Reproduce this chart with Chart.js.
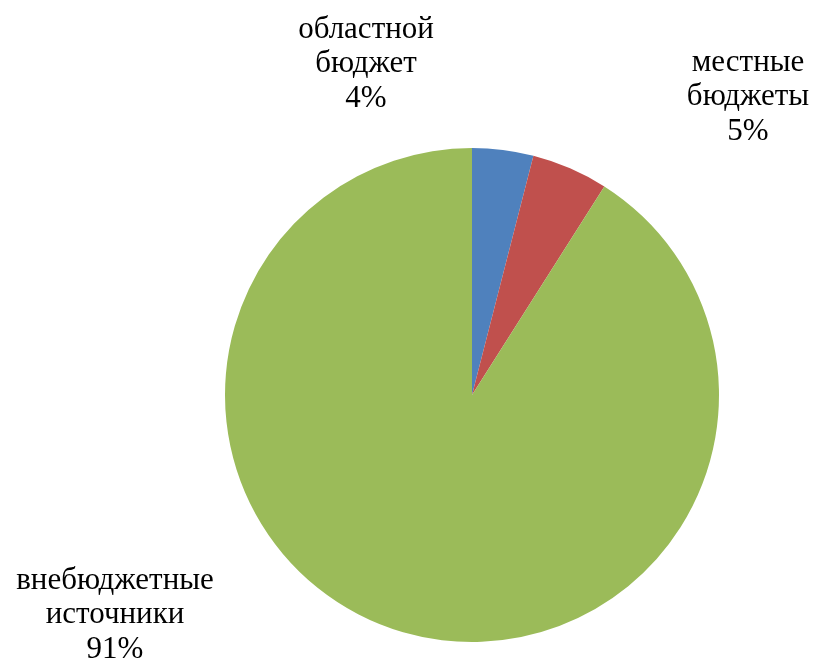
<!DOCTYPE html>
<html>
<head>
<meta charset="utf-8">
<script src="https://cdn.jsdelivr.net/npm/chart.js@4.4.0/dist/chart.umd.min.js"></script>
<style>
  html, body { margin: 0; padding: 0; background: #ffffff; }
  #wrap { width: 815px; height: 663px; }
</style>
</head>
<body>
<div id="wrap"><canvas id="c" width="815" height="663"></canvas></div>
<script>
// Источники финансирования (доли, %)
const categories = [["областной", "бюджет"], ["местные", "бюджеты"], ["внебюджетные", "источники"]];
const shares = [4, 5, 91];
const sliceColors = ["#4F81BD", "#C0504D", "#9BBB59"];

// Где стоит центр каждой подписи (px) — по порядку секторов
const labelAnchors = [[366, 64], [748, 97], [115, 615]];

const labelPlugin = {
  id: "sliceLabels",
  afterDraw(chart) {
    const ctx = chart.ctx;
    const ds = chart.data.datasets[0];
    const total = ds.data.reduce((a, b) => a + b, 0);
    ctx.save();
    ctx.fillStyle = "#000000";
    ctx.font = "31px 'Liberation Serif', 'Times New Roman', serif";
    ctx.textAlign = "center";
    ctx.textBaseline = "middle";
    const lineH = 34.5;
    chart.data.labels.forEach((lab, i) => {
      const pct = Math.round(ds.data[i] / total * 100) + "%";
      const lines = [...lab, pct];
      const [cx, cy] = labelAnchors[i];
      const y0 = cy - lineH * (lines.length - 1) / 2;
      lines.forEach((t, k) => ctx.fillText(t, cx, y0 + k * lineH));
    });
    ctx.restore();
  }
};

new Chart(document.getElementById("c"), {
  type: "pie",
  data: {
    labels: categories,
    datasets: [{
      data: shares,
      backgroundColor: sliceColors,
      borderWidth: 0
    }]
  },
  options: {
    responsive: false,
    animation: false,
    layout: { padding: { left: 225, right: 96, top: 148, bottom: 21 } },
    plugins: {
      legend: { display: false },
      tooltip: { enabled: false }
    }
  },
  plugins: [labelPlugin]
});
</script>
</body>
</html>
